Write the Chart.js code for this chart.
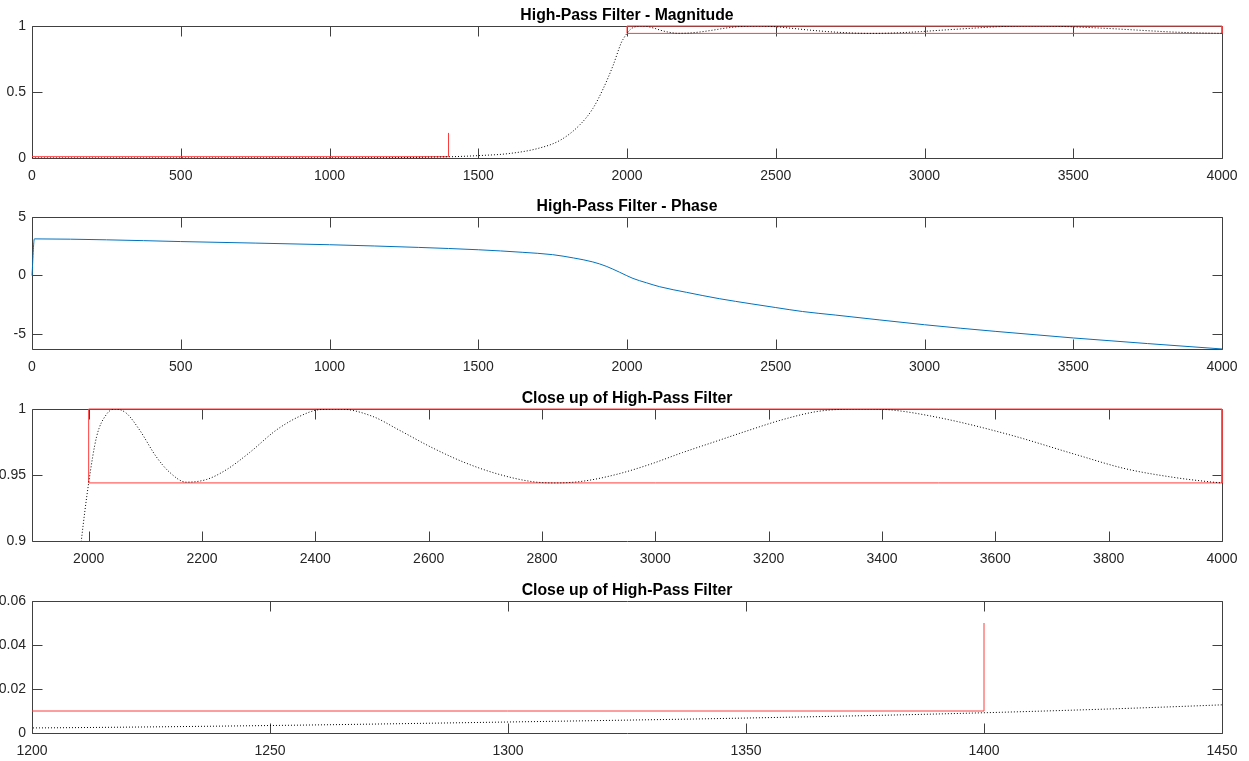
<!DOCTYPE html>
<html>
<head>
<meta charset="utf-8">
<script src="https://cdn.jsdelivr.net/npm/chart.js@4/dist/chart.umd.min.js"></script>
<style>
  html, body { margin: 0; padding: 0; background: #fff; }
  body { width: 1249px; height: 761px; position: relative; overflow: hidden; }
  canvas { position: absolute; left: 0; }
</style>
</head>
<body>
<canvas id="c1" width="1249" height="190" style="top:0px"></canvas>
<canvas id="c2" width="1249" height="190" style="top:190px"></canvas>
<canvas id="c3" width="1249" height="190" style="top:380px"></canvas>
<canvas id="c4" width="1249" height="191" style="top:570px"></canvas>
<script>
// ---------- data ----------
const freq = [0, 200, 400, 600, 800, 1000, 1100, 1200, 1250, 1300, 1350, 1400, 1450, 1500, 1600, 1700, 1775, 1840, 1885, 1920, 1953, 1981, 1987, 2000, 2014, 2031, 2046, 2066, 2090, 2119, 2143, 2172, 2208, 2243, 2284, 2331, 2372, 2407, 2443, 2501, 2548, 2607, 2666, 2725, 2784, 2825, 2872, 2931, 2990, 3048, 3107, 3166, 3225, 3284, 3331, 3365, 3410, 3500, 3624, 3742, 3830, 3918, 3977, 4000];
const magnitude = [0, 0.00002, 0.0001, 0.0003, 0.0006, 0.0011, 0.0016, 0.0023, 0.0034, 0.0050, 0.0068, 0.0092, 0.0128, 0.018, 0.033, 0.072, 0.134, 0.248, 0.374, 0.525, 0.70, 0.875, 0.90, 0.944, 0.979, 0.9957, 1.0, 0.997, 0.984, 0.964, 0.952, 0.9446, 0.9466, 0.954, 0.967, 0.984, 0.9944, 0.9995, 1.0, 0.9944, 0.984, 0.9705, 0.959, 0.9504, 0.9449, 0.944, 0.9453, 0.9504, 0.958, 0.967, 0.9755, 0.984, 0.992, 0.998, 0.9998, 1.0, 0.9995, 0.9935, 0.9806, 0.9655, 0.9547, 0.948, 0.9449, 0.944];

const phaseFreq = [0, 8, 250, 500, 750, 1000, 1300, 1500, 1650, 1750, 1820, 1885, 1930, 1975, 2020, 2065, 2110, 2200, 2310, 2420, 2500, 2590, 2700, 3000, 3240, 3500, 3750, 4000];
const phase = [0, 3.13, 3.05, 2.90, 2.77, 2.63, 2.40, 2.20, 1.98, 1.78, 1.50, 1.16, 0.79, 0.28, -0.25, -0.62, -0.96, -1.44, -1.98, -2.43, -2.74, -3.08, -3.38, -4.21, -4.78, -5.34, -5.82, -6.28];

// pass-band specification box
const passBoxX = [2000, 2000, 4000, 4000, 2000];
const passBoxY = [0.944, 1, 1, 0.944, 0.944];
// stop-band specification lines
const stopSpecX = [0, 1400, 1400];
const stopSpecY1 = [0.01, 0.01, 0.19];
const stopSpecY4 = [0.01, 0.01, 0.05];

// tick labels
const xTicksFull = [0, 500, 1000, 1500, 2000, 2500, 3000, 3500, 4000];
const yTicksMag = [0, 0.5, 1];
const yTicksPhase = [-5, 0, 5];
const xTicksClose1 = [2000, 2200, 2400, 2600, 2800, 3000, 3200, 3400, 3600, 3800, 4000];
const yTicksClose1 = [0.9, 0.95, 1];
const xTicksClose2 = [1200, 1250, 1300, 1350, 1400, 1450];
const yTicksClose2 = [0, 0.02, 0.04, 0.06];

const titles = ['High-Pass Filter - Magnitude', 'High-Pass Filter - Phase', 'Close up of High-Pass Filter', 'Close up of High-Pass Filter'];

// ---------- helpers ----------
const pts = (xs, ys) => xs.map((x, i) => ({x: x, y: ys[i]}));
const FONT = '"Liberation Sans", Arial, Helvetica, sans-serif';
Chart.defaults.font.family = FONT;
Chart.defaults.font.size = 14;
Chart.defaults.color = '#262626';

const AX = '#404040';
const matlabAxes = {
  id: 'matlabAxes',
  beforeDatasetsDraw(chart) {
    const {ctx, chartArea: a} = chart;
    const xs = chart.scales.x, ys = chart.scales.y;
    const L = Math.round(a.left) + 0.5, R = Math.round(a.right) + 0.5;
    const T = Math.round(a.top) + 0.5, B = Math.round(a.bottom) + 0.5;
    ctx.save();
    ctx.strokeStyle = AX;
    ctx.lineWidth = 1;
    ctx.beginPath();
    ctx.moveTo(L, T); ctx.lineTo(R, T); ctx.lineTo(R, B); ctx.lineTo(L, B); ctx.closePath();
    const TL = 10;
    xs.ticks.forEach(t => {
      const p = Math.round(xs.getPixelForValue(t.value)) + 0.5;
      ctx.moveTo(p, B); ctx.lineTo(p, B - TL);
      ctx.moveTo(p, T); ctx.lineTo(p, T + TL);
    });
    ys.ticks.forEach(t => {
      const p = Math.round(ys.getPixelForValue(t.value)) + 0.5;
      ctx.moveTo(L, p); ctx.lineTo(L + TL, p);
      ctx.moveTo(R, p); ctx.lineTo(R - TL, p);
    });
    ctx.stroke();
    ctx.restore();
  },
  afterDraw(chart) {
    const t = chart.options.plugins.matlabAxes.title;
    const a = chart.chartArea;
    const ctx = chart.ctx;
    ctx.save();
    ctx.fillStyle = '#000';
    ctx.font = 'bold 15.8px ' + FONT;
    ctx.textAlign = 'center';
    ctx.textBaseline = 'alphabetic';
    ctx.fillText(t, (a.left + a.right) / 2, a.top - 6);
    ctx.restore();
  }
};

function makeChart(id, cfg) {
  const axisH = cfg.axisH;
  return new Chart(document.getElementById(id), {
    type: 'line',
    data: { datasets: cfg.datasets },
    plugins: [matlabAxes],
    options: {
      responsive: false,
      animation: false,
      events: [],
      layout: { padding: { top: cfg.top, left: 0, right: 27, bottom: 0 } },
      plugins: { legend: { display: false }, tooltip: { enabled: false }, title: { display: false },
                 matlabAxes: { title: cfg.title } },
      elements: { point: { radius: 0 } },
      scales: {
        x: {
          type: 'linear', min: cfg.xmin, max: cfg.xmax, offset: false,
          grid: { display: false, drawTicks: false }, border: { display: false },
          ticks: { autoSkip: false, maxRotation: 0, minRotation: 0, padding: 10, color: '#262626',
                   callback: v => String(v) },
          afterBuildTicks: s => { s.ticks = cfg.xticks.map(v => ({value: v})); },
          afterFit: s => { s.height = axisH; s.paddingLeft = 0; s.paddingRight = 0; }
        },
        y: {
          type: 'linear', min: cfg.ymin, max: cfg.ymax,
          grid: { display: false, drawTicks: false }, border: { display: false },
          ticks: { autoSkip: false, padding: 6, color: '#262626', callback: v => String(v) },
          afterBuildTicks: s => { s.ticks = cfg.yticks.map(v => ({value: v})); },
          afterFit: s => { s.width = 32; }
        }
      }
    }
  });
}

const blackDotted = data => ({ data: data, borderColor: '#000', borderWidth: 1, borderDash: [1, 2],
  cubicInterpolationMode: 'monotone', pointRadius: 0, fill: false });
const redLine = data => ({ data: data, borderColor: 'rgb(255,60,60)', borderWidth: 1, tension: 0,
  pointRadius: 0, fill: false, clip: { left: 0, top: 3, right: 3, bottom: 0 } });

makeChart('c1', {
  top: 26, axisH: 32, title: titles[0], xmin: 0, xmax: 4000, ymin: 0, ymax: 1,
  xticks: xTicksFull, yticks: yTicksMag,
  datasets: [ blackDotted(pts(freq, magnitude)), redLine(pts(passBoxX, passBoxY)), redLine(pts(stopSpecX, stopSpecY1)) ]
});

makeChart('c2', {
  top: 27, axisH: 31, title: titles[1], xmin: 0, xmax: 4000, ymin: -6.2832, ymax: 5,
  xticks: xTicksFull, yticks: yTicksPhase,
  datasets: [ { data: pts(phaseFreq, phase), borderColor: '#0072BD', borderWidth: 1,
                cubicInterpolationMode: 'monotone', pointRadius: 0, fill: false, clip: 2 } ]
});

makeChart('c3', {
  top: 29, axisH: 29, title: titles[2], xmin: 1900, xmax: 4000, ymin: 0.9, ymax: 1,
  xticks: xTicksClose1, yticks: yTicksClose1,
  datasets: [ blackDotted(pts(freq, magnitude)), redLine(pts(passBoxX, passBoxY)) ]
});

makeChart('c4', {
  top: 31, axisH: 28, title: titles[3], xmin: 1200, xmax: 1450, ymin: 0, ymax: 0.06,
  xticks: xTicksClose2, yticks: yTicksClose2,
  datasets: [ blackDotted(pts(freq, magnitude)), redLine(pts(stopSpecX, stopSpecY4)) ]
});
</script>
</body>
</html>
